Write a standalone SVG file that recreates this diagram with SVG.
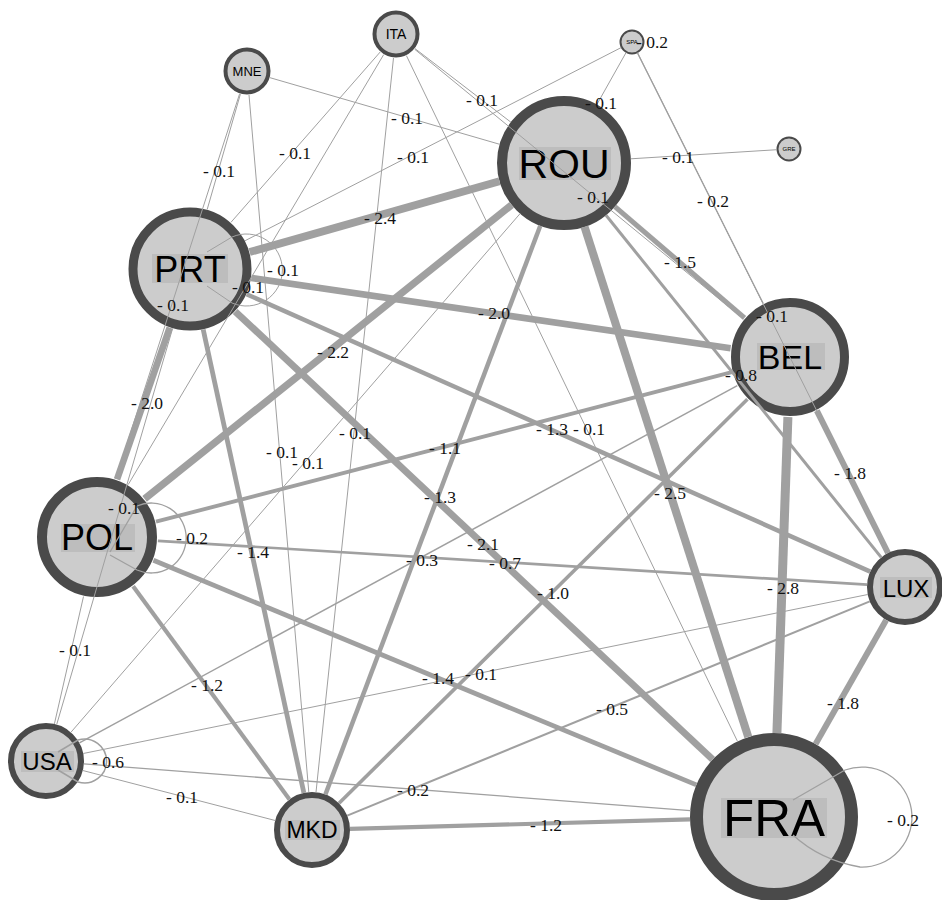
<svg xmlns="http://www.w3.org/2000/svg" width="942" height="900" viewBox="0 0 942 900">
<style>
.bg{fill:#ffffff}
.e{stroke:#a0a0a0;fill:none;stroke-linecap:butt}
.w01{stroke-width:1}.w02{stroke-width:1.3}.w03{stroke-width:1.5}.w05{stroke-width:2.1}.w06{stroke-width:1.5}
.w07{stroke-width:2.7}.w08{stroke-width:3}.w10{stroke-width:3.6}.w11{stroke-width:3.9}.w12{stroke-width:4.2}
.w13{stroke-width:4.5}.w14{stroke-width:4.8}.w15{stroke-width:5.1}.w18{stroke-width:6}.w20{stroke-width:6.6}
.w21{stroke-width:6.9}.w22{stroke-width:7.2}.w24{stroke-width:7.8}.w25{stroke-width:8.1}.w28{stroke-width:9}
.n circle{fill:#cccccc;stroke:#4a4a4a}
.n rect{fill:#bdbdbd}
.n text{font-family:"Liberation Sans",Arial,sans-serif;fill:#000;text-anchor:middle}
.l{font-family:"Liberation Serif","Times New Roman",serif;font-size:17.5px;fill:#111;text-anchor:middle}
</style>
<rect class="bg" x="0" y="0" width="942" height="900"/>
<g id="nodes">
<g id="ITA" class="n"><circle cx="396" cy="34" r="21.5" stroke-width="4"/><text x="396" y="39" font-size="14">ITA</text></g>
<g id="MNE" class="n"><circle cx="247" cy="71" r="21.5" stroke-width="4"/><text x="247" y="76" font-size="13">MNE</text></g>
<g id="SPA" class="n"><circle cx="632" cy="42" r="11.5" stroke-width="2"/><text x="632" y="44" font-size="6">SPA</text></g>
<g id="GRE" class="n"><circle cx="789" cy="149" r="11.5" stroke-width="2"/><text x="789" y="151" font-size="6">GRE</text></g>
<g id="ROU" class="n"><circle cx="564" cy="163" r="62" stroke-width="10"/><rect x="519" y="147" width="92" height="33"/><text x="564" y="178" font-size="41">ROU</text></g>
<g id="PRT" class="n"><circle cx="190" cy="269" r="57" stroke-width="9"/><rect x="152" y="254" width="76" height="29"/><text x="190" y="282" font-size="36">PRT</text></g>
<g id="BEL" class="n"><circle cx="790" cy="357" r="54.5" stroke-width="9"/><rect x="757" y="343" width="68" height="27"/><text x="790" y="369" font-size="34">BEL</text></g>
<g id="POL" class="n"><circle cx="97" cy="537" r="55" stroke-width="10"/><rect x="61" y="524" width="74" height="28"/><text x="97" y="550" font-size="36">POL</text></g>
<g id="LUX" class="n"><circle cx="905" cy="587" r="35" stroke-width="6"/><rect x="880" y="577" width="52" height="21"/><text x="906" y="597" font-size="24">LUX</text></g>
<g id="USA" class="n"><circle cx="46" cy="761" r="35" stroke-width="6"/><rect x="21" y="751" width="53" height="21"/><text x="47" y="770" font-size="24">USA</text></g>
<g id="MKD" class="n"><circle cx="312" cy="830" r="35" stroke-width="6"/><rect x="285" y="820" width="55" height="20"/><text x="312" y="838" font-size="23">MKD</text></g>
<g id="FRA" class="n"><circle cx="774" cy="817" r="77.5" stroke-width="13"/><rect x="721" y="798" width="106" height="40"/><text x="774" y="836" font-size="51">FRA</text></g>
</g>
<g id="connectors">
<line class="e w24" x1="499.5" y1="181.3" x2="249.6" y2="252.1"/>
<line class="e w22" x1="511.7" y1="204.9" x2="144.6" y2="498.9"/>
<line class="e w25" x1="584.5" y1="226.8" x2="748.3" y2="737"/>
<line class="e w15" x1="614.9" y1="206.6" x2="744.5" y2="317.9"/>
<line class="e w13" x1="540.3" y1="225.7" x2="325.4" y2="794.5"/>
<line class="e w08" x1="606" y1="215.2" x2="881.2" y2="557.4"/>
<line class="e w01" x1="520.1" y1="213.6" x2="70.9" y2="732.3"/>
<line class="e w01" x1="630.9" y1="158.8" x2="777" y2="149.7"/>
<line class="e w01" x1="596.8" y1="104.6" x2="626.1" y2="52.5"/>
<line class="e w01" x1="499.7" y1="144.3" x2="270" y2="77.7"/>
<line class="e w01" x1="510.9" y1="122.2" x2="415" y2="48.6"/>
<line class="e w20" x1="251.3" y1="278" x2="730.6" y2="348.3"/>
<line class="e w13" x1="246.6" y1="294.2" x2="870.3" y2="571.6"/>
<line class="e w21" x1="235.2" y1="311.4" x2="712.7" y2="759.5"/>
<line class="e w20" x1="169.7" y1="327.6" x2="117" y2="479.4"/>
<line class="e w14" x1="203.2" y1="329.6" x2="303.9" y2="792.9"/>
<line class="e w01" x1="172.6" y1="328.5" x2="56.7" y2="724.5"/>
<line class="e w01" x1="207.2" y1="209.4" x2="240.4" y2="94.1"/>
<line class="e w01" x1="230.9" y1="222.4" x2="380.2" y2="52"/>
<line class="e w01" x1="245.1" y1="240.7" x2="621.3" y2="47.5"/>
<line class="e w11" x1="156" y1="521.7" x2="731.9" y2="372.1"/>
<line class="e w07" x1="157.9" y1="540.8" x2="867.1" y2="584.7"/>
<line class="e w14" x1="153.4" y1="560.3" x2="696.4" y2="784.9"/>
<line class="e w12" x1="133.1" y1="586.2" x2="289.5" y2="799.4"/>
<line class="e w01" x1="83.5" y1="596.5" x2="54.4" y2="723.9"/>
<line class="e w01" x1="115.7" y1="478.9" x2="239.6" y2="93.8"/>
<line class="e w01" x1="128.2" y1="484.6" x2="383.7" y2="54.6"/>
<line class="e w28" x1="787.9" y1="417" x2="776.9" y2="733.1"/>
<line class="e w18" x1="816.8" y1="410.7" x2="888" y2="553"/>
<line class="e w10" x1="747.4" y1="399.2" x2="339" y2="803.3"/>
<line class="e w03" x1="737.3" y1="385.6" x2="79.4" y2="742.9"/>
<line class="e w02" x1="763.1" y1="303.4" x2="637.4" y2="52.7"/>
<line class="e w01" x1="743.6" y1="319" x2="414.6" y2="49.2"/>
<line class="e w18" x1="886.2" y1="620" x2="815.6" y2="744"/>
<line class="e w05" x1="869.8" y1="601.4" x2="347.2" y2="815.6"/>
<line class="e w01" x1="867.8" y1="594.5" x2="83.2" y2="753.5"/>
<line class="e w01" x1="888" y1="553" x2="637.4" y2="52.7"/>
<line class="e w12" x1="690" y1="819.4" x2="350" y2="828.9"/>
<line class="e w02" x1="690.3" y1="810.6" x2="83.9" y2="763.9"/>
<line class="e w01" x1="737.5" y1="741.4" x2="406.4" y2="55.6"/>
<line class="e w01" x1="275.2" y1="820.5" x2="82.8" y2="770.5"/>
<line class="e w01" x1="308.8" y1="792.1" x2="249" y2="94.9"/>
<line class="e w01" x1="316" y1="792.2" x2="393.5" y2="57.9"/>
<path class="e w01" d="M207,252 L232,237 A36,36 0 1 1 232,303 L207,286"/>
<path class="e w02" d="M110,552 L137,506 A35,35 0 1 1 137,570 L110,555"/>
<path class="e w06" d="M58,752 L78,740 A22,22 0 1 1 78,782 L58,770"/>
<path class="e w02" d="M793,800 L845,770 A50,50 0 1 1 860,867 Q820,860 793,835"/>
</g>
<g id="edge-labels">
<text class="l" x="380" y="224">- 2.4</text>
<text class="l" x="333" y="358">- 2.2</text>
<text class="l" x="670" y="499">- 2.5</text>
<text class="l" x="680" y="268">- 1.5</text>
<text class="l" x="440" y="503">- 1.3</text>
<text class="l" x="741" y="381">- 0.8</text>
<text class="l" x="308" y="469">- 0.1</text>
<text class="l" x="678" y="163">- 0.1</text>
<text class="l" x="601" y="109">- 0.1</text>
<text class="l" x="407" y="124">- 0.1</text>
<text class="l" x="482" y="106">- 0.1</text>
<text class="l" x="494" y="319">- 2.0</text>
<text class="l" x="552" y="435">- 1.3</text>
<text class="l" x="483" y="550">- 2.1</text>
<text class="l" x="147" y="409">- 2.0</text>
<text class="l" x="253" y="558">- 1.4</text>
<text class="l" x="124" y="514">- 0.1</text>
<text class="l" x="219" y="177">- 0.1</text>
<text class="l" x="295" y="159">- 0.1</text>
<text class="l" x="413" y="163">- 0.1</text>
<text class="l" x="445" y="454">- 1.1</text>
<text class="l" x="505" y="569">- 0.7</text>
<text class="l" x="438" y="684">- 1.4</text>
<text class="l" x="207" y="691">- 1.2</text>
<text class="l" x="75" y="656">- 0.1</text>
<text class="l" x="173" y="311">- 0.1</text>
<text class="l" x="248" y="293">- 0.1</text>
<text class="l" x="783" y="594">- 2.8</text>
<text class="l" x="850" y="479">- 1.8</text>
<text class="l" x="553" y="599">- 1.0</text>
<text class="l" x="422" y="566">- 0.3</text>
<text class="l" x="713" y="207">- 0.2</text>
<text class="l" x="593" y="203">- 0.1</text>
<text class="l" x="843" y="709">- 1.8</text>
<text class="l" x="612" y="715">- 0.5</text>
<text class="l" x="481" y="680">- 0.1</text>
<text class="l" x="772" y="322">- 0.1</text>
<text class="l" x="546" y="831">- 1.2</text>
<text class="l" x="413" y="796">- 0.2</text>
<text class="l" x="589" y="435">- 0.1</text>
<text class="l" x="182" y="803">- 0.1</text>
<text class="l" x="282" y="458">- 0.1</text>
<text class="l" x="355" y="439">- 0.1</text>
<text class="l" x="283" y="276">- 0.1</text>
<text class="l" x="192" y="544">- 0.2</text>
<text class="l" x="108" y="768">- 0.6</text>
<text class="l" x="903" y="826">- 0.2</text>
<text class="l" x="652" y="48">- 0.2</text>
</g>
</svg>
